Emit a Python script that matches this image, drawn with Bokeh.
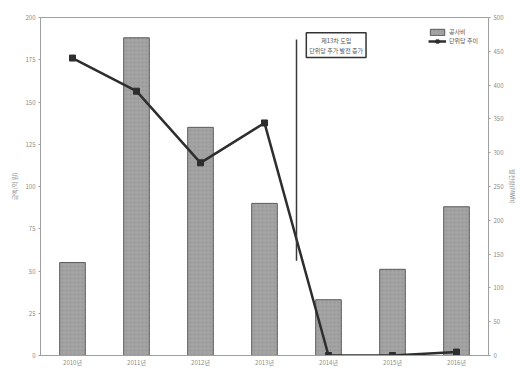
from bokeh.plotting import figure
from bokeh.models import (FactorRange, Range1d, LinearAxis, Legend, LegendItem,
                          Label, ColumnDataSource, FixedTicker)
from bokeh.embed import file_html
from bokeh.resources import INLINE

categories = ["2010년", "2011년", "2012년", "2013년", "2014년", "2015년", "2016년"]
cost_values = [55, 188, 135, 90, 33, 51, 88]          # left axis (bars)
unit_values = [440, 391, 285, 344, 0, 0, 5]           # right axis (line)
left_ticks = [0, 25, 50, 75, 100, 125, 150, 175, 200]
right_ticks = [0, 50, 100, 150, 200, 250, 300, 350, 400, 450, 500]
bar_name = "공사비"
line_name = "단위당 추이"
note_lines = "제13차 도입\n단위당 추가 발전 증가"
left_label = "금액(억 원)"
right_label = "발전량(MWh)"
note_x = 4.0
note_y0, note_y1 = 56, 187

FONT = "Noto Sans CJK KR"
TXT = "#8a8a8a"
AX = "#a0a0a0"

p = figure(width=520, height=369, x_range=FactorRange(*categories, range_padding=0),
           y_range=Range1d(0, 200), output_backend="svg", toolbar_location=None,
           min_border_left=40, min_border_right=24, min_border_top=17, min_border_bottom=0)
p.extra_y_ranges = {"right": Range1d(0, 500)}

src = ColumnDataSource(dict(cat=categories, cost=cost_values, unit=unit_values))

bars = p.vbar(x="cat", top="cost", width=0.4, source=src,
              fill_color="#a3a3a3", line_color="#5a5a5a", line_width=1,
              hatch_pattern="dot", hatch_color="#7d7d7d", hatch_alpha=0.35, hatch_scale=4)

ln = p.line(x="cat", y="unit", source=src, y_range_name="right",
            line_color="#2e2e2e", line_width=2.5)
mk = p.scatter(x="cat", y="unit", source=src, y_range_name="right", marker="square",
               size=6, fill_color="#2e2e2e", line_color="#2e2e2e")

# annotation pointer and box
p.segment(x0=[note_x], y0=[note_y0], x1=[note_x], y1=[note_y1],
          line_color="#3a3a3a", line_width=1.5)
p.add_layout(Label(x=note_x + 0.62, y=191, text=note_lines, text_font=FONT,
                   text_font_size="6px", text_color="#555555", text_baseline="top",
                   text_align="center", border_line_color="#333333", border_line_width=1.5,
                   background_fill_color="white", padding=3, text_line_height=1.1))

# axes
p.xgrid.visible = False
p.ygrid.visible = False
p.outline_line_color = AX
p.outline_line_width = 1

for ax in [p.xaxis[0], p.yaxis[0]]:
    ax.axis_line_color = AX
    ax.major_tick_line_color = AX
    ax.minor_tick_line_color = None
    ax.major_tick_out = 2
    ax.major_tick_in = 0
    ax.major_label_text_font = FONT
    ax.major_label_text_font_size = "6px"
    ax.major_label_text_color = TXT

p.xaxis[0].major_tick_out = 0
p.xaxis[0].major_label_standoff = 2
p.yaxis[0].ticker = FixedTicker(ticks=left_ticks)
p.yaxis[0].axis_label = left_label
p.yaxis[0].axis_label_text_font = FONT
p.yaxis[0].axis_label_text_font_size = "6px"
p.yaxis[0].axis_label_text_font_style = "normal"
p.yaxis[0].axis_label_text_color = TXT
p.yaxis[0].axis_label_standoff = 4
p.yaxis[0].major_label_standoff = 3

ra = LinearAxis(y_range_name="right", ticker=FixedTicker(ticks=right_ticks),
                axis_label=right_label)
ra.axis_line_color = AX
ra.major_tick_line_color = AX
ra.minor_tick_line_color = None
ra.major_tick_out = 2
ra.major_tick_in = 0
ra.major_label_text_font = FONT
ra.major_label_text_font_size = "6px"
ra.major_label_text_color = TXT
ra.major_label_standoff = 3
ra.axis_label_text_font = FONT
ra.axis_label_text_font_size = "6px"
ra.axis_label_text_font_style = "normal"
ra.axis_label_text_color = TXT
ra.axis_label_standoff = 2
p.add_layout(ra, "right")

legend = Legend(items=[LegendItem(label=bar_name, renderers=[bars]),
                       LegendItem(label=line_name, renderers=[ln, mk])],
                location="top_right", margin=10, padding=0, spacing=0,
                glyph_width=18, glyph_height=8, label_height=8,
                label_text_font=FONT, label_text_font_size="6px",
                label_text_color="#555555", label_standoff=3,
                border_line_alpha=0, background_fill_alpha=0)
p.add_layout(legend)

open("out.html", "w").write(file_html(p, INLINE))
